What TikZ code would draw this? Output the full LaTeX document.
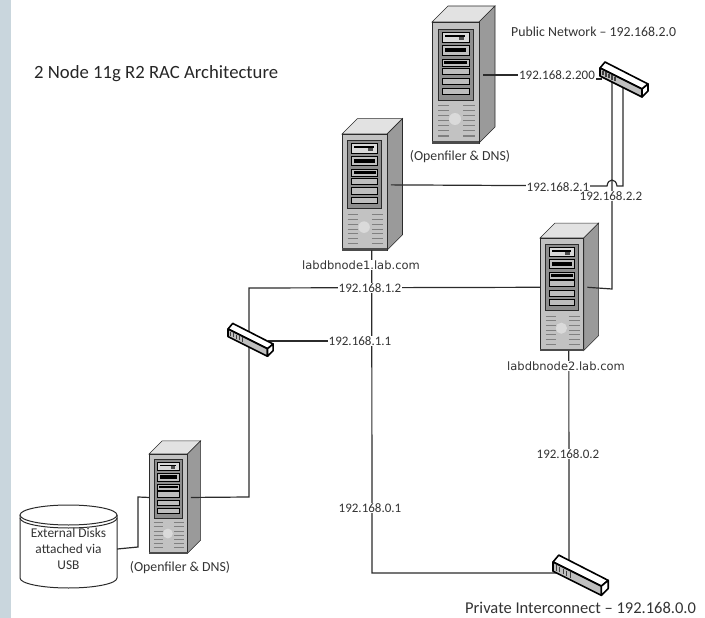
\documentclass[tikz,border=0pt]{standalone}
\usepackage{fontspec}
\setmainfont{Carlito}
\newfontfamily\hostfont{DejaVu Sans}
\definecolor{stripcol}{HTML}{C9D6DD}
\definecolor{frontcol}{HTML}{C2C2C2}
\definecolor{sidecol}{HTML}{9A9A9A}
\definecolor{topcol}{HTML}{E2E2E2}
\definecolor{panelcol}{HTML}{8E8E8E}
\definecolor{baycol}{HTML}{BDBDBD}
\definecolor{linecol}{HTML}{2B2B2B}
\tikzset{
    netlabel/.style={fill=white,inner sep=1pt,font=\fontsize{13}{15}\selectfont,text=black!80},
    hostlabel/.style={fill=white,inner sep=1pt,font=\hostfont\fontsize{11.5}{13}\selectfont,text=black!80},
    filerlabel/.style={inner sep=1pt,font=\fontsize{13.8}{16}\selectfont,text=black!80},
    server/.pic={
        \draw[linecol,fill=topcol,line width=.6pt] (0,0) -- (16,-16) -- (63,-16) -- (47,0) -- cycle;
        \draw[linecol,fill=sidecol,line width=.6pt] (47,0) -- (63,-16) -- (63,105) -- (47,121) -- cycle;
        \draw[linecol,fill=frontcol,line width=.8pt] (0,0) rectangle (47,121);
        \fill[black!70] (0,119) rectangle (47,122);
        \fill[white,opacity=.4] (23,97) circle (6);
        \draw[linecol,fill=panelcol,line width=.8pt] (6,7) rectangle (41,78);
        \draw[black,fill=black!15,line width=.7pt] (10,10) rectangle (37,20);
        \draw[black,fill=black!25,line width=.7pt] (10,23) rectangle (37,33);
        \fill[black] (13,26) rectangle (34,30);
        \draw[black,fill=black!25,line width=.7pt] (10,37) rectangle (37,44);
        \fill[black] (12,39) rectangle (35,42);
        \fill[black] (13,13) rectangle (33,15);
        \fill[black!70] (27,15) rectangle (32,18);
        \foreach \baytop in {46,56,66}
            \draw[black,fill=baycol,line width=.7pt] (10,\baytop) rectangle (37,\baytop+6.5);
        \foreach \venty in {84,89,...,114} {
            \draw[black!50,line width=1pt] (6,\venty) -- (17,\venty);
            \draw[black!50,line width=1pt] (31,\venty) -- (43,\venty);
        }
        \coordinate (-port) at (51,53);
        \coordinate (-left) at (0,53);
        \coordinate (-bottom) at (31,121);
    },
    switch/.pic={
        \begin{scope}[line width=1.6pt,draw=black,line join=round]
        \filldraw[fill=white] (0,0) -- (5,-6) -- (48,16) -- (42,21) -- cycle;
        \filldraw[fill=black!25] (0,0) -- (42,21) -- (42,29) -- (0,8) -- cycle;
        \filldraw[fill=white] (42,21) -- (48,16) -- (48,23) -- (42,29) -- cycle;
        \end{scope}
        \foreach \portx in {3,6,9,12,15}
            \draw[black!75,line width=1.1pt] (\portx,\portx*.5+1.5) -- (\portx,\portx*.5+6);
    }
}
\begin{document}
\begin{tikzpicture}[x=1pt,y=-1pt]
\useasboundingbox (0,0) rectangle (705,618);
\fill[stripcol] (0,0) rectangle (11,618);

\node[inner sep=1pt,font=\fontsize{18.7}{22}\selectfont,text=black!85,anchor=west] (title) at (33,74) {2 Node 11g R2 RAC Architecture};
\node[inner sep=1pt,font=\fontsize{13.8}{16}\selectfont,text=black!80,anchor=west] (pubnet) at (510,32) {Public Network -- 192.168.2.0};
\node[inner sep=1pt,font=\fontsize{16.5}{19}\selectfont,text=black!80,anchor=west] (privnet) at (464,608) {Private Interconnect -- 192.168.0.0};

\pic (filertop) at (432,22) {server};
\pic[scale=.96] (node1) at (342,134) {server};
\pic[scale=.93] (node2) at (540,238) {server};
\pic[scale=.82] (filerlow) at (149,454) {server};

\draw[linecol,line width=1pt] (20,515) -- (20,578) arc[start angle=180,end angle=360,x radius=48.5pt,y radius=10pt] -- (117,515);
\draw[linecol,line width=1pt,fill=white] (68.5,515) ellipse [x radius=48.5pt,y radius=10pt];
\draw[linecol,line width=1pt] (20,518) arc[start angle=180,end angle=360,x radius=48.5pt,y radius=10pt];
\node[inner sep=0pt,minimum width=97pt,align=center,font=\fontsize{13.4}{16}\selectfont,text=black!80] (disk) at (68.5,549) {External Disks\\attached via\\USB};

\coordinate (pubdropa) at (612,80);
\coordinate (pubdropb) at (623,88);
\coordinate (pubhead) at (590,75);
\coordinate (pubtail) at (590,79);
\coordinate (publeft) at (602,79);
\coordinate (storeport) at (268,341);
\coordinate (icjoin) at (372,341);
\coordinate (privleft) at (556,573);
\coordinate (privtop) at (569,560);

\begin{scope}[every edge/.style={draw,linecol,line width=1.2pt},line width=1.2pt]
    \path (filertop-port) edge (pubhead);
    \path (pubtail) edge (publeft);
    \path (storeport) edge (icjoin);
    \path (node2-bottom) edge (privtop);
    \draw[linecol] (node1-bottom) -- (372,573) -- (privleft);
    \draw[linecol] (pubdropa) -- (612,289) -- (node2-port);
    \draw[linecol] (pubdropb) -- (623,186) -- (617,186) .. controls (616,178) and (608,178) .. (607,186) -- (node1-port);
    \draw[linecol] (node2-left) -- (249,288) -- (249,497) -- (filerlow-port);
    \draw[linecol] (disk.east) -- (138,547) -- (138,497) -- (filerlow-left);
\end{scope}

\pic (pubsw) at (600,68) {switch};
\pic[scale=.94] (storesw) at (228,329) {switch};
\pic[scale=1.15] (privsw) at (553,562) {switch};

\begin{scope}[every node/.style={netlabel}]
\node (pub200) at (557,75) {192.168.2.200};
\node (pub1) at (558,187) {192.168.2.1};
\node (pub2) at (611,196) {192.168.2.2};
\node (ic12) at (370,288) {192.168.1.2};
\node (ic11) at (360,341) {192.168.1.1};
\node (priv1) at (370,508) {192.168.0.1};
\node (priv2) at (568,454) {192.168.0.2};
\end{scope}

\node[hostlabel] (node1name) at (361,265) {labdbnode1.lab.com};
\node[hostlabel] (node2name) at (566,366) {labdbnode2.lab.com};
\node[filerlabel] (filertopname) at (460,157) {(Openfiler \& DNS)};
\node[filerlabel] (filerlowname) at (180,568) {(Openfiler \& DNS)};
\end{tikzpicture}
\end{document}
